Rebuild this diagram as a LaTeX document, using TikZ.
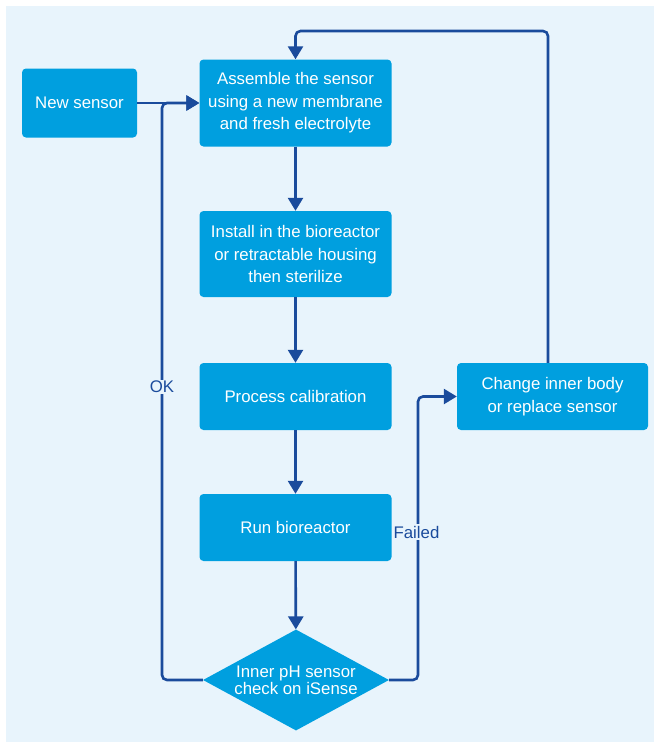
\documentclass[tikz,border=0pt]{standalone}
\usepackage{fontspec}
\setmainfont{Liberation Sans}
\usetikzlibrary{arrows.meta,shapes.geometric}
\definecolor{bgblue}{HTML}{E8F4FC}
\definecolor{boxblue}{HTML}{009FDF}
\definecolor{linkblue}{HTML}{1A4B9C}
\tikzset{
  x=1pt,y=-1pt,
  stepbox/.style={draw=none,fill=boxblue,rounded corners=4pt,text=white,align=center,
    inner sep=0pt,font=\fontsize{16.8}{22.5}\selectfont},
  decbox/.style={diamond,draw=none,fill=boxblue,inner sep=0pt,minimum width=186pt,minimum height=101pt},
  link/.style={draw=linkblue,line width=2.6pt,rounded corners=5pt,-{Triangle[length=13pt,width=15pt]}},
  lab/.style={text=linkblue,fill=bgblue,inner sep=1.5pt,font=\fontsize{16.8}{20}\selectfont}
}
\begin{document}
\begin{tikzpicture}
\useasboundingbox (0,0) rectangle (654,742);
\fill[bgblue] (6,6) rectangle (654,742);
\node[stepbox,minimum width=115pt,minimum height=69pt] (new) at (79.5,103) {New sensor};
\node[stepbox,minimum width=192pt,minimum height=87pt] (asm) at (295.5,103) {Assemble the sensor\\using a new membrane\\and fresh electrolyte};
\node[stepbox,minimum width=192pt,minimum height=86pt] (inst) at (295.5,254) {Install in the bioreactor\\or retractable housing\\then sterilize};
\node[stepbox,minimum width=192pt,minimum height=67pt] (proc) at (295.5,396.5) {Process calibration};
\node[stepbox,minimum width=192pt,minimum height=67pt] (run) at (295.5,527.5) {Run bioreactor};
\node[decbox] (dia) at (296,680) {};
\node[text=white,align=center,inner sep=0pt,font=\fontsize{16.8}{14.5}\selectfont] (diatext) at (296,680) {Inner pH sensor\\check on iSense};
\node[stepbox,minimum width=191pt,minimum height=67pt] (chg) at (552.5,396.5) {Change inner body\\or replace sensor};
\coordinate (okx) at (162,680);
\coordinate (failx) at (418,680);
\coordinate (top) at (548,31);
% straight flow
\draw[link] (new.east) -- (asm.west);
\draw[link] (asm) -- (inst);
\draw[link] (inst) -- (proc);
\draw[link] (proc) -- (run);
\draw[link] (run) -- (dia);
% OK loop
\draw[link] (dia.west) -- (okx) |- (asm.west);
% Failed loop
\draw[link] (dia.east) -- (failx) |- (chg.west);
% back to top
\draw[link] (chg.north -| top) -- (top) -| (asm.north);
% labels
\node[lab] (ok) at (162,387) {OK};
\node[lab] (failed) at (416.5,532) {Failed};
\end{tikzpicture}
\end{document}
